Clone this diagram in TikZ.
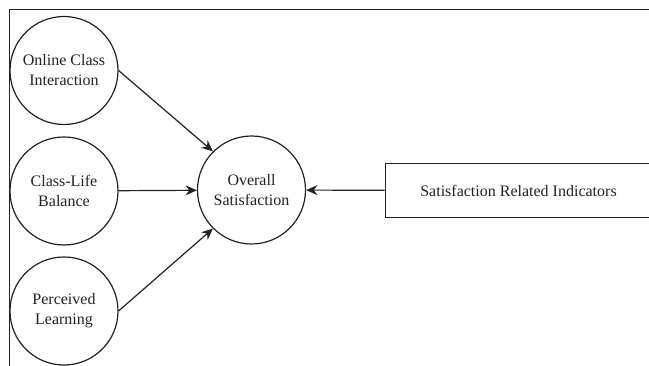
\documentclass[tikz,border=0pt]{standalone}
\usepackage{fontspec}
\setmainfont{Liberation Serif}
\usetikzlibrary{arrows.meta}
\definecolor{ink}{HTML}{222222}
\tikzstyle{construct}=[circle, draw=ink, line width=0.9pt, minimum size=81pt, inner sep=0pt, align=center, text=ink]
\tikzstyle{indicator}=[rectangle, draw=ink, line width=0.9pt, minimum width=200pt, minimum height=40pt, text=ink]
\tikzstyle{link}=[draw=ink, line width=0.9pt, -{Stealth[length=8.5pt,width=7.5pt]}]

\begin{document}
\begin{tikzpicture}[x=0.75pt, y=-0.75pt, font=\fontsize{12}{15}\selectfont]
\useasboundingbox (0,0) rectangle (649,366);
\draw[ink, line width=0.9pt] (9.3,366) -- (9.3,9.3) -- (649,9.3);
\draw (64,70.5) node[construct] (OCI) {Online Class\\Interaction};
\draw (64,191) node[construct] (CLB) {Class-Life\\Balance};
\draw (64,311) node[construct] (PL) {Perceived\\Learning};
\draw (251.5,190) node[construct] (OS) {Overall\\Satisfaction};
\draw (518.5,190.5) node[indicator] (SRI) {Satisfaction Related Indicators};

\draw[link] (OCI.east) -- (OS.north west);
\draw[link] (CLB) -- (OS);
\draw[link] (PL.east) -- (OS.south west);
\draw[link] (SRI) -- (OS);
\end{tikzpicture}
\end{document}
